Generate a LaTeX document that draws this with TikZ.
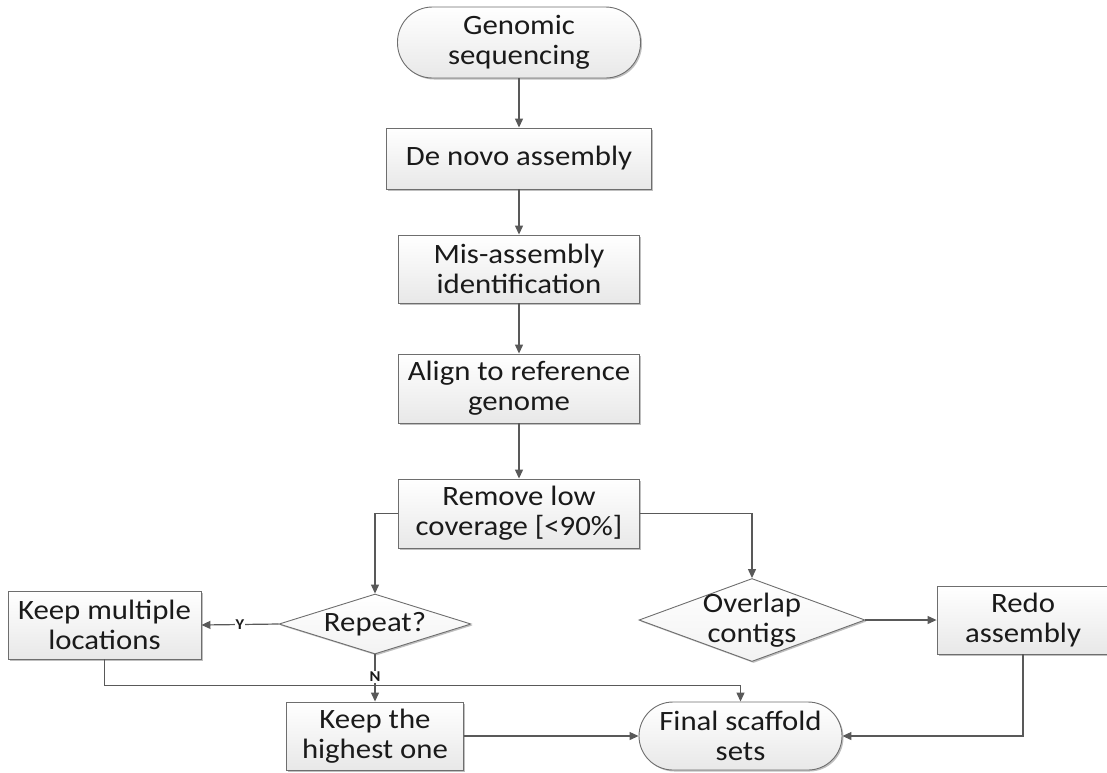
\documentclass[tikz,border=0pt]{standalone}
\usepackage{fontspec}
\setmainfont{Carlito}[FakeStretch=1.1]
\usetikzlibrary{arrows.meta,shapes.geometric,shadows}
\definecolor{linec}{HTML}{595959}
\definecolor{bordc}{HTML}{6E6E6E}
\definecolor{txtc}{HTML}{1A1A1A}
\tikzset{
  txt/.style={font=\fontsize{28}{30}\selectfont, text=txtc, align=center},
  base/.style={draw=bordc, line width=0.9pt, top color=white, bottom color=black!9,
    drop shadow={shadow xshift=1.5pt, shadow yshift=-1.5pt, opacity=0.25, fill=black}},
  procbox/.style={base, txt, rectangle, inner sep=0pt},
  term/.style={base, txt, rectangle, rounded corners=34pt, inner sep=0pt},
  dia/.style={base, diamond, inner sep=0pt, top color=white, bottom color=black!5},
  arr/.style={draw=linec, line width=1.2pt, -{Triangle[length=9pt,width=8pt]}},
  lbl/.style={font=\fontsize{15}{16}\selectfont\bfseries, text=txtc, fill=white, inner sep=1pt}
}
\begin{document}
\begin{tikzpicture}[x=1pt,y=1pt]
\useasboundingbox (0,0) rectangle (1107,-772);
\node[term, minimum width=243pt, minimum height=71pt, rounded corners=35pt] (gen) at (519,-42.5) {Genomic\\sequencing};
\node[procbox, minimum width=265pt, minimum height=61pt] (denovo) at (519,-158.5) {De novo assembly};
\node[procbox, minimum width=241pt, minimum height=68pt] (mis) at (519,-269) {Mis-assembly\\identification};
\node[procbox, minimum width=241pt, minimum height=69pt] (align) at (519,-388.5) {Align to reference\\genome};
\node[procbox, minimum width=241pt, minimum height=69pt] (rem) at (519,-513.5) {Remove low\\coverage [<90\%]};
\node[dia, minimum width=192pt, minimum height=60pt, label={[txt]center:Repeat?}] (rep) at (375,-624) {};
\node[procbox, minimum width=193pt, minimum height=68pt] (km) at (104.5,-625) {Keep multiple\\locations};
\node[procbox, minimum width=177pt, minimum height=68pt] (kh) at (375,-736) {Keep the\\highest one};
\node[dia, minimum width=226pt, minimum height=83pt, label={[txt]center:Overlap\\contigs}] (ov) at (752,-620) {};
\node[procbox, minimum width=172pt, minimum height=68pt] (redo) at (1023,-620) {Redo\\assembly};
\node[term, minimum width=203pt, minimum height=68pt] (fin) at (740.5,-736) {Final scaffold\\sets};

\draw[arr] (gen.south) -- (denovo.north);
\draw[arr] (denovo.south) -- (mis.north);
\draw[arr] (mis.south) -- (align.north);
\draw[arr] (align.south) -- (rem.north);
\draw[arr] (rem.west) -| (rep.north);
\draw[arr] (rem.east) -| (ov.north);
\draw[arr] (km.south) |- ([yshift=16pt]fin.north) -- (fin.north);
\draw[arr] (rep.west) -- node[lbl] {Y} (km.east);
\draw[arr] (rep.south) -- node[lbl, pos=0.48] {N} (kh.north);
\draw[arr] (kh.east) -- (fin.west);
\draw[arr] (ov.east) -- (redo.west);
\draw[arr] (redo.south) |- (fin.east);
\end{tikzpicture}
\end{document}
